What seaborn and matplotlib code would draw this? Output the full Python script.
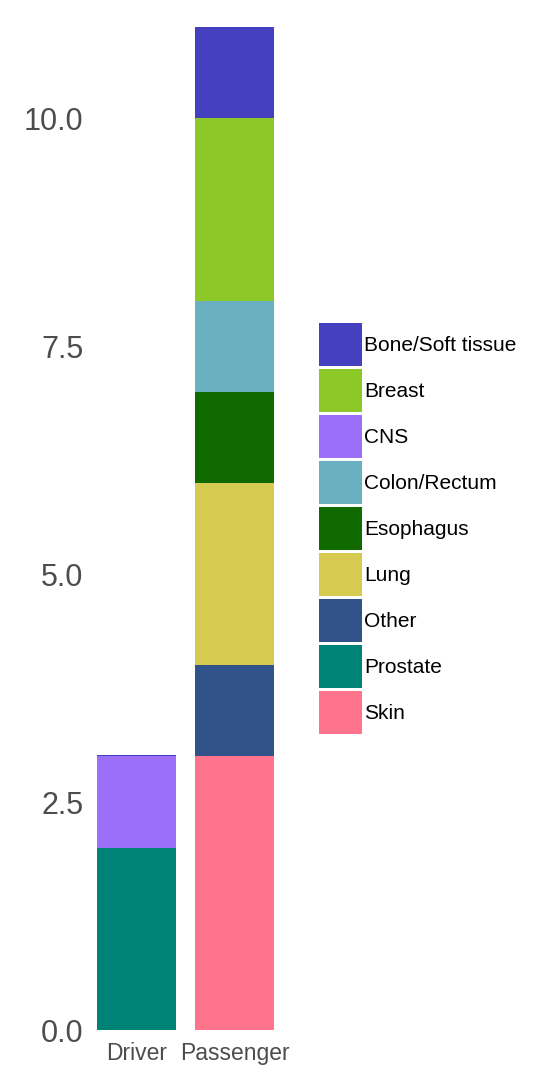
import matplotlib
matplotlib.use("Agg")
import matplotlib.pyplot as plt
import seaborn as sns
import pandas as pd
from matplotlib.patches import Patch

# ---- data ----
groups = ["Driver", "Driver", "Driver",
          "Passenger", "Passenger", "Passenger", "Passenger",
          "Passenger", "Passenger", "Passenger"]
tissues = ["Prostate", "CNS", "Bone/Soft tissue",
           "Skin", "Other", "Lung", "Esophagus",
           "Colon/Rectum", "Breast", "Bone/Soft tissue"]
counts = [2, 1, 0.012,
          3, 1, 2, 1,
          1, 2, 1]

tissue_order = ["Bone/Soft tissue", "Breast", "CNS", "Colon/Rectum",
                "Esophagus", "Lung", "Other", "Prostate", "Skin"]
tissue_colors = ["#4540C0", "#8CC928", "#9B6FF8", "#6AB0C0",
                 "#116A00", "#D6CA50", "#32538A", "#008377", "#FF738D"]
group_order = ["Driver", "Passenger"]
yticks = [0, 2.5, 5, 7.5, 10]
ytick_labels = ["0.0", "2.5", "5.0", "7.5", "10.0"]

df = pd.DataFrame({"group": pd.Categorical(groups, categories=group_order),
                   "tissue": tissues, "count": counts})
palette = dict(zip(tissue_order, tissue_colors))

sns.set_style("white")
plt.rcParams["font.family"] = ["Liberation Sans", "DejaVu Sans"]

fig = plt.figure(figsize=(5.34, 10.77), dpi=100)
ax = fig.add_axes([88 / 534, 47 / 1077, 205 / 534, 1003 / 1077])

sns.histplot(data=df, x="group", hue="tissue", weights="count",
             hue_order=tissue_order, palette=palette, multiple="stack",
             discrete=True, shrink=0.8, linewidth=0, edgecolor="none",
             alpha=1, legend=False, ax=ax)

ax.set_xlim(-0.495, 1.597)
ax.set_ylim(0, 11)
ax.set_yticks(yticks)
ax.set_yticklabels(ytick_labels)
ax.set_xticks([0, 1])
ax.set_xticklabels(group_order)
ax.set_xlabel("")
ax.set_ylabel("")
for s in ax.spines.values():
    s.set_visible(False)
ax.tick_params(axis="y", length=0, pad=3.5, labelsize=22, labelcolor="#4D4D4D")
ax.tick_params(axis="x", length=0, pad=8.5, labelsize=16.5, labelcolor="#4D4D4D")
ax.grid(False)

handles = [Patch(facecolor=c, edgecolor="none", label=t)
           for t, c in zip(tissue_order, tissue_colors)]
fs = 15
fs_px = fs * 100 / 72
key_px = 43
hh = (key_px / fs_px - 0.245) / 0.65
fig.legend(handles=handles, loc="upper left",
           bbox_to_anchor=(319 / 534, 1 - 323 / 1077),
           frameon=False, fontsize=fs, borderpad=0, borderaxespad=0,
           handlelength=key_px / fs_px, handleheight=hh,
           labelspacing=3 / fs_px, handletextpad=2 / fs_px,
           labelcolor="black")

fig.savefig("out.png", dpi=100, facecolor="white")
